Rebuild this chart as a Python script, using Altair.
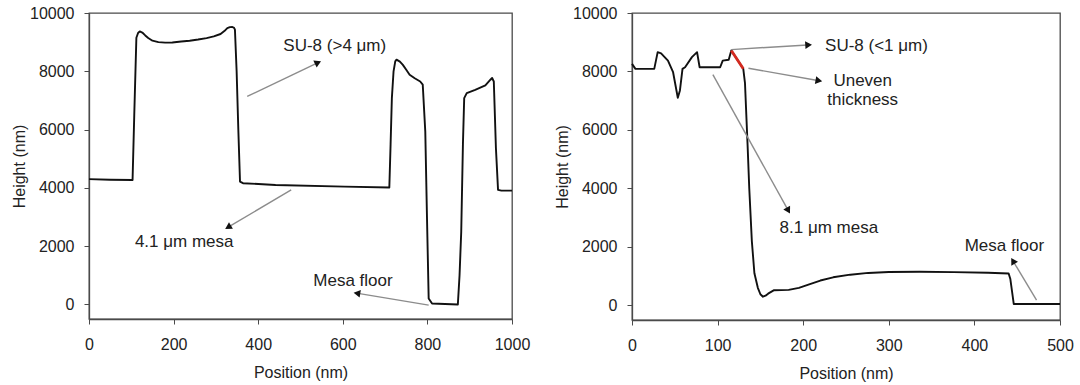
import math
import altair as alt
import pandas as pd

# ---- Profile A: SU-8 ridges on the 4.1 um mesa ----
pos_a = [0, 50, 103, 107, 112, 116, 120, 126, 133, 140, 150, 164, 180, 197, 218, 238, 258,
         278, 295, 311, 320, 327, 333, 339, 343, 345, 349, 353, 357, 364, 441, 604, 710,
         713, 716, 720, 724, 727, 735, 742, 750, 758, 770, 783, 789, 795, 799, 803, 811,
         872, 876, 880, 884, 887, 893, 913, 937, 949, 953, 957, 962, 967, 975, 1000]
h_a = [4300, 4280, 4270, 6500, 9150, 9313, 9370, 9330, 9230, 9140, 9050, 9000, 8985, 8990,
       9020, 9050, 9090, 9140, 9200, 9280, 9380, 9480, 9515, 9520, 9490, 9430, 8000, 6000,
       4215, 4160, 4100, 4044, 4010, 5500, 7080, 8000, 8340, 8400, 8330, 8220, 8050, 7880,
       7760, 7650, 7540, 5930, 3000, 206, 34, 0, 1000, 2500, 5500, 7080, 7250, 7365, 7515,
       7710, 7770, 7650, 5360, 3930, 3906, 3906]

# ---- Profile B: thin SU-8 on the 8.1 um mesa ----
pos_b = [0, 4, 26, 30, 34, 42, 48, 53.5, 56, 59, 62, 70, 76, 79, 86, 103, 106, 113, 116, 130,
         132, 135, 137, 140, 143, 147, 150, 153, 156, 159, 166, 183, 195, 207, 220, 235, 255,
         276, 300, 336, 376, 416, 440, 442, 446, 457, 500]
h_b = [8260, 8090, 8090, 8660, 8620, 8370, 7975, 7100, 7350, 8090, 8145, 8490, 8660, 8145, 8145,
       8145, 8370, 8400, 8715, 8090, 7600, 5500, 4000, 2200, 1100, 600, 380, 296, 330, 400, 520,
       530, 600, 720, 850, 960, 1050, 1110, 1140, 1150, 1138, 1115, 1092, 900, 45, 45, 45]

# highlighted SU-8 slope (uneven thickness)
red_pos = [116, 130]
red_h = [8715, 8090]

# ---- annotations ----
labels_a = ["SU-8 (>4 μm)", "4.1 μm mesa", "Mesa floor"]
label_x_a = [581, 225, 624]
label_y_a = [8854, 2153, 802]
arrow_a_x1 = [374, 478, 803]
arrow_a_y1 = [7136, 3929, -23]
arrow_a_x2 = [539, 331, 636]
arrow_a_y2 = [8282, 2669, 378]

labels_b = ["SU-8 (<1 μm)", "Uneven", "thickness", "8.1 μm mesa", "Mesa floor"]
label_x_b = [285.6, 269.5, 269.5, 230, 435]
label_y_b = [8885, 7691, 7008, 2651, 2025]
arrow_b_x1 = [115.8, 136, 94.5, 472.6]
arrow_b_y1 = [8749, 8111, 7895, 182]
arrow_b_x2 = [205, 217, 182, 445.7]
arrow_b_y2 = [8908, 7691, 3276, 1490]

FONT = "Liberation Sans"
INK = "#222222"
FRAME = "#4a4a4a"
Y_DOMAIN = [-500, 10000]


def panel(pos, h, xmax, xstep, width, height, labels, lx, ly, ax1, ay1, ax2, ay2, red=None):
    xs = alt.Scale(domain=[0, xmax], nice=False, zero=False)
    ys = alt.Scale(domain=Y_DOMAIN, nice=False, zero=False)
    x_axis = alt.Axis(title="Position (nm)", values=list(range(0, xmax + 1, xstep)),
                      labelFlush=False, grid=False, format="d")
    y_axis = alt.Axis(title="Height (nm)", values=list(range(0, 10001, 2000)),
                      grid=False, format="d")

    prof = pd.DataFrame({"pos": pos, "h": h, "i": range(len(pos))})
    line = alt.Chart(prof).mark_line(color="#111111", strokeWidth=1.9,
                                     strokeJoin="round").encode(
        x=alt.X("pos:Q", scale=xs, axis=x_axis),
        y=alt.Y("h:Q", scale=ys, axis=y_axis),
        order="i:Q",
    )
    layers = [line]

    if red is not None:
        rdf = pd.DataFrame({"pos": red[0], "h": red[1]})
        layers.append(alt.Chart(rdf).mark_line(color="#d42a20", strokeWidth=2.8).encode(
            x=alt.X("pos:Q", scale=xs), y=alt.Y("h:Q", scale=ys)))

    # arrow shafts and heads; head angle follows the on-screen direction
    angles = []
    for a, b, c, d in zip(ax1, ay1, ax2, ay2):
        dxp = (c - a) * width / xmax
        dyp = (d - b) * height / (Y_DOMAIN[1] - Y_DOMAIN[0])
        angles.append(math.degrees(math.atan2(dxp, dyp)) % 360)
    adf = pd.DataFrame({"x1": ax1, "y1": ay1, "x2": ax2, "y2": ay2, "ang": angles})
    shafts = alt.Chart(adf).mark_rule(color="#8c8c8c", strokeWidth=1.4).encode(
        x=alt.X("x1:Q", scale=xs), y=alt.Y("y1:Q", scale=ys),
        x2="x2:Q", y2="y2:Q")
    heads = alt.Chart(adf).mark_point(shape="triangle", filled=True, color="#111111",
                                      size=60, opacity=1).encode(
        x=alt.X("x2:Q", scale=xs), y=alt.Y("y2:Q", scale=ys),
        angle=alt.Angle("ang:Q", scale=None))
    layers += [shafts, heads]

    tdf = pd.DataFrame({"t": labels, "x": lx, "y": ly})
    texts = alt.Chart(tdf).mark_text(font=FONT, fontSize=17, color=INK,
                                     align="center", baseline="middle").encode(
        x=alt.X("x:Q", scale=xs), y=alt.Y("y:Q", scale=ys), text="t:N")
    layers.append(texts)

    return alt.layer(*layers).properties(width=width, height=height)


left = panel(pos_a, h_a, 1000, 200, 423, 306, labels_a, label_x_a, label_y_a,
             arrow_a_x1, arrow_a_y1, arrow_a_x2, arrow_a_y2)
right = panel(pos_b, h_b, 500, 100, 428, 307, labels_b, label_x_b, label_y_b,
              arrow_b_x1, arrow_b_y1, arrow_b_x2, arrow_b_y2, red=(red_pos, red_h))

chart = alt.hconcat(left, right, spacing=22).properties(
    padding={"left": 10, "top": 4, "right": 2, "bottom": 2},
    background="white",
).configure_view(
    stroke=FRAME, strokeWidth=1.3
).configure_axis(
    labelFont=FONT, titleFont=FONT, labelFontSize=16, titleFontSize=16,
    labelColor=INK, titleColor=INK, titleFontWeight="normal",
    domainColor=FRAME, tickColor=FRAME, tickSize=5, domainWidth=1.3,
    labelPadding=10,
).configure_axisX(titlePadding=12, labelPadding=12).configure_axisY(titlePadding=2)

chart.save("out.html", embed_options={"renderer": "svg", "actions": False})
